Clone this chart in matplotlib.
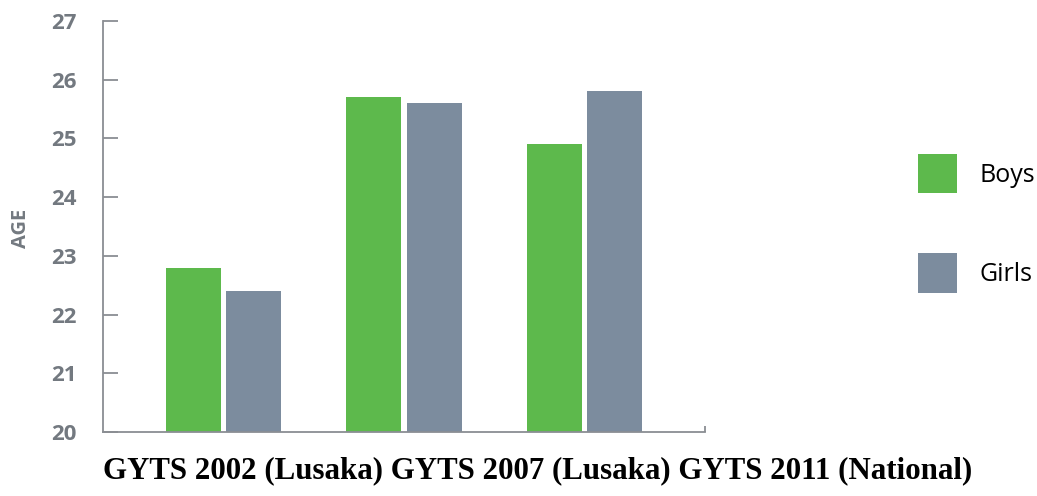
import numpy as np
import matplotlib.pyplot as plt
from matplotlib.patches import Patch

categories = ["GYTS 2002 (Lusaka)", "GYTS 2007 (Lusaka)", "GYTS 2011 (National)"]
boys = [22.8, 25.7, 24.9]
girls = [22.4, 25.6, 25.8]
yticks = [20, 21, 22, 23, 24, 25, 26, 27]

green = "#5DB94C"
slate = "#7C8C9E"
axis_grey = "#8A8E93"
label_grey = "#737980"

fig = plt.figure(figsize=(10.37, 4.96), dpi=100)
ax = fig.add_axes([103 / 1037, 64 / 496, 602 / 1037, 411 / 496])

x = np.arange(len(categories))
w = 0.306
gap = 0.028
ax.bar(x - (w + gap) / 2, boys, w, color=green, label="Boys")
ax.bar(x + (w + gap) / 2, girls, w, color=slate, label="Girls")

ax.set_ylim(20, 27)
ax.set_xlim(-0.67, 2.67)
ax.set_yticks(yticks)
ax.set_yticklabels([str(v) for v in yticks], family="Open Sans",
                   fontweight="bold", fontsize=16, color=label_grey)
ax.tick_params(axis="y", direction="in", length=11, width=1.3,
               color=axis_grey, pad=19)
ax.set_xticks([2.67])
ax.set_xticklabels([""])
ax.tick_params(axis="x", direction="in", length=4, width=1.3, color=axis_grey)

for s in ["top", "right"]:
    ax.spines[s].set_visible(False)
for s in ["left", "bottom"]:
    ax.spines[s].set_color(axis_grey)
    ax.spines[s].set_linewidth(1.3)

fig.text(21 / 1037, 1 - 228 / 496, "AGE", rotation=90, ha="center", va="center",
         family="Open Sans", fontweight="bold", fontsize=14.5, color=label_grey)

fig.text(103 / 1037, 1 - 471 / 496, " ".join(categories), ha="left", va="center",
         family="Liberation Serif", fontweight="bold", fontsize=22.2, color="black")

handles = [Patch(facecolor=green, label="Boys"), Patch(facecolor=slate, label="Girls")]
leg = fig.legend(handles=handles, loc="upper left",
                 bbox_to_anchor=(918 / 1037, 1 - 154 / 496),
                 frameon=False, borderpad=0, borderaxespad=0,
                 handlelength=1.55, handleheight=2.05, handletextpad=0.9,
                 labelspacing=2.4, prop={"family": "Open Sans", "size": 18})

fig.savefig("out.png", dpi=100)
